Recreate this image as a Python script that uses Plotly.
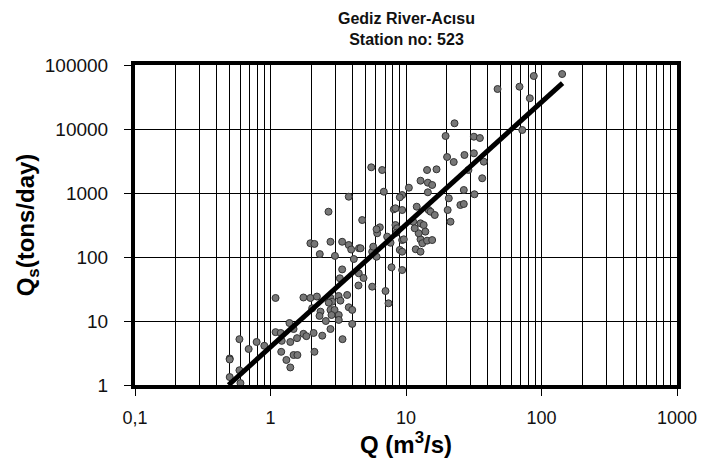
import plotly.graph_objects as go

# Observed discharge Q (m3/s) and suspended sediment load Qs (tons/day)
q_obs = [
    0.50, 0.50, 0.50, 0.59, 0.59, 0.60, 0.69, 0.79, 0.90, 1.09,
    1.09, 1.19, 1.21, 1.20, 1.31, 1.38, 1.48, 1.40, 1.48, 1.58,
    1.40, 1.57, 1.75, 1.84, 2.08, 2.41, 2.11, 1.75, 1.97, 2.20,
    2.77, 3.18, 3.68, 2.85, 3.28, 2.69, 2.03, 2.34, 2.30, 2.77,
    2.97, 3.19, 3.19, 3.78, 4.01, 4.01, 2.82, 2.56, 2.77, 3.40,
    7.06, 7.43, 9.37, 7.82, 3.38, 3.25, 4.48, 4.86, 4.46, 5.63,
    1.97, 2.11, 2.77, 3.38, 3.78, 3.94, 2.31, 2.99, 4.12, 4.50,
    4.62, 5.63, 6.06, 5.73, 6.13, 7.26, 6.41, 6.06, 8.36, 8.61,
    8.51, 7.69, 9.37, 9.63, 9.00, 9.37, 12.8, 13.2, 14.3, 15.6,
    11.8, 12.8, 13.9, 12.4, 11.3, 11.6, 12.8, 13.5, 12.0, 14.7,
    15.2, 16.3, 20.3, 21.3, 25.2, 26.7, 20.7, 26.7, 32.0, 10.5,
    9.37, 9.00, 8.13, 8.36, 9.37, 12.8, 14.3, 16.8, 14.5, 15.6,
    14.5, 20.1, 22.5, 27.0, 31.7, 37.5, 36.5, 28.9, 19.6, 22.8,
    31.7, 35.1, 47.4, 68.8, 87.7, 142.0, 82.0, 72.1, 5.54, 6.67,
    3.78, 6.86, 2.68, 4.75,
]
qs_obs = [
    2.6, 2.5, 1.33, 5.2, 1.7, 1.07, 3.65, 4.7, 4.1, 22.9,
    6.7, 6.5, 4.9, 3.3, 2.46, 9.3, 7.5, 4.7, 2.94, 2.94,
    1.88, 5.4, 6.3, 5.8, 6.5, 5.9, 3.3, 23.3, 22.9, 24.1,
    22.9, 24.6, 25.5, 20.0, 20.8, 19.3, 15.8, 14.0, 12.0, 14.9,
    14.9, 12.4, 10.4, 16.4, 14.9, 9.0, 12.4, 10.0, 7.5, 5.2,
    29.4, 18.9, 62.6, 69.0, 64.0, 46.5, 55.6, 47.0, 35.9, 34.4,
    164, 160, 173, 173, 154, 131, 111, 104, 93, 137,
    137, 121, 101, 145, 235, 208, 291, 271, 316, 281,
    240, 167, 184, 189, 129, 121, 189, 164, 180, 184,
    132, 121, 249, 235, 356, 281, 336, 316, 611, 542,
    510, 453, 542, 356, 649, 673, 826, 1114, 955, 1210,
    930, 857, 556, 577, 542, 1556, 2287, 2345, 1449, 1334,
    1026, 3652, 3050, 3925, 4170, 3085, 1698, 2287, 7775, 12280,
    7580, 7230, 42170, 45800, 67300, 72300, 30200, 9650, 2520, 2287,
    875, 1048, 510, 378,
]

# Rating curve end points
fit_q = [0.49, 143.0]
fit_qs = [1.0, 52000.0]

x_tickvals = [0.1, 1, 10, 100, 1000]
x_ticktext = ["0,1", "1", "10", "100", "1000"]
y_tickvals = [1, 10, 100, 1000, 10000, 100000]
y_ticktext = ["1", "10", "100", "1000", "10000", "100000"]

title_text = "<b>Gediz River-Acısu<br>Station no: 523</b>"

FONT = "Liberation Sans, Arial, sans-serif"

fig = go.Figure()
fig.add_trace(go.Scatter(
    x=q_obs, y=qs_obs, mode="markers",
    marker=dict(symbol="circle", size=7, color="#777777",
                line=dict(color="#333333", width=1)),
    showlegend=False, hoverinfo="skip",
))
fig.add_trace(go.Scatter(
    x=fit_q, y=fit_qs, mode="lines",
    line=dict(color="black", width=5),
    showlegend=False, hoverinfo="skip",
))

fig.add_annotation(
    text=title_text, xref="paper", yref="paper",
    x=0.5, xanchor="center", y=(385 - 8) / 320, yanchor="top",
    showarrow=False, align="center",
    font=dict(size=16, family=FONT, color="#111111"),
)

fig.update_layout(
    width=716, height=459,
    margin=dict(l=135, r=39, t=65, b=74),
    paper_bgcolor="white", plot_bgcolor="white",
    font=dict(family=FONT, color="black"),
    xaxis=dict(
        type="log", range=[-1, 3],
        tickvals=x_tickvals, ticktext=x_ticktext,
        tickfont=dict(size=18, family=FONT, color="#111111"),
        ticks="outside", ticklen=7, tickwidth=1, tickcolor="black",
        ticklabelstandoff=6,
        showgrid=True, gridcolor="black", gridwidth=1,
        minor=dict(dtick="D1", showgrid=True, gridcolor="black", gridwidth=1, ticks=""),
        showline=True, linecolor="black", linewidth=4, mirror=True,
        zeroline=False,
        title=dict(text="<b>Q (m<sup>3</sup>/s)</b>", standoff=2,
                   font=dict(size=24, family=FONT, color="black")),
    ),
    yaxis=dict(
        type="log", range=[0, 5],
        tickvals=y_tickvals, ticktext=y_ticktext,
        tickfont=dict(size=19, family=FONT, color="#111111"),
        ticks="outside", ticklen=7, tickwidth=1, tickcolor="black",
        ticklabelstandoff=12,
        showgrid=True, gridcolor="black", gridwidth=1,
        showline=True, linecolor="black", linewidth=4, mirror=True,
        zeroline=False,
        title=dict(text="<b>Q<sub>s</sub>(tons/day)</b>", standoff=4,
                   font=dict(size=24, family=FONT, color="black")),
    ),
)

fig.write_html("out.html")
